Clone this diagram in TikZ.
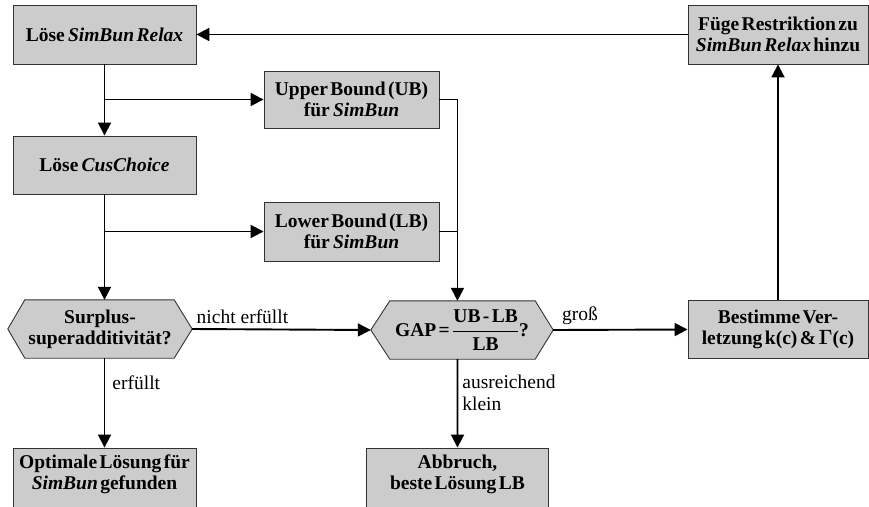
\documentclass[tikz,border=0pt]{standalone}
\usepackage{amsmath}
\usepackage{fontspec}
\setmainfont{Liberation Serif}[BoldFeatures={WordSpace=0.5},BoldItalicFeatures={WordSpace=0.5}]
\usetikzlibrary{arrows.meta,calc}
\definecolor{boxgray}{HTML}{CCCCCC}
\definecolor{edgegray}{HTML}{333333}
\tikzset{
  box/.style={draw=edgegray, line width=0.9pt, fill=boxgray, inner sep=0pt, align=center,
    font=\fontsize{19.5}{21}\selectfont\bfseries},
  hexbox/.style={inner sep=0pt, minimum width=#1},
  hextext/.style={inner sep=0pt, align=center, font=\fontsize{19.5}{21}\selectfont\bfseries},
  txt/.style={inner sep=0pt, align=left, font=\fontsize{19.5}{22}\selectfont},
  conn/.style={line width=1.9pt, -{Triangle[length=13pt,width=13pt]}},
  plain/.style={line width=1.9pt},
}
\begin{document}
\begin{tikzpicture}[x=1pt,y=-1pt]
\useasboundingbox (0,0) rectangle (869,506);
\clip (0,0) rectangle (869,506);
% boxes
\node[box, minimum width=183, minimum height=59] (relax) at (104.5,34.5) {Löse\,\textit{SimBun Relax}};
\node[box, minimum width=183, minimum height=58] (cus) at (104.5,165) {Löse\,\textit{CusChoice}};
\node[box, minimum width=175, minimum height=57] (ub) at (351.5,99.5) {Upper Bound (UB)\\für\,\textit{SimBun}};
\node[box, minimum width=175, minimum height=59] (lb) at (351.5,231.5) {Lower Bound (LB)\\für\,\textit{SimBun}};
\node[box, minimum width=180, minimum height=59] (fuege) at (778,34.5) {Füge Restriktion zu\\\textit{SimBun Relax} hinzu};
\node[box, minimum width=180, minimum height=58] (best) at (778,329.5) {Bestimme Ver-\\letzung k(c) \& $\boldsymbol{\Gamma}$(c)};
\node[box, minimum width=183, minimum height=64] (opt) at (104.5,480) {};
\node[hextext] (optT) at (104.5,474) {Optimale Lösung für\\\textit{SimBun} gefunden};
\node[box, minimum width=182, minimum height=64] (abb) at (457.5,480) {};
\node[hextext] (abbT) at (457.5,474) {Abbruch,\\beste Lösung LB};
% hexagons
\node[hexbox=184, minimum height=58] (surp) at (100,329) {};
\filldraw[draw=edgegray, line width=0.9pt, fill=boxgray]
  (surp.west) -- ($(surp.north west)+(17,0)$) -- ($(surp.north east)+(-18,0)$) -- (surp.east)
  -- ($(surp.south east)+(-18,0)$) -- ($(surp.south west)+(17,0)$) -- cycle;
\node[hextext] (surpT) at (surp) {Surplus-\\superadditivität?};
\node[hexbox=182, minimum height=58] (gap) at (462,330) {};
\filldraw[draw=edgegray, line width=0.9pt, fill=boxgray]
  (gap.west) -- ($(gap.north west)+(19,0)$) -- ($(gap.north east)+(-18,0)$) -- (gap.east)
  -- ($(gap.south east)+(-18,0)$) -- ($(gap.south west)+(19,0)$) -- cycle;
\node[hextext] (gapT) at (gap) {GAP = $\dfrac{\text{UB - LB}}{\text{LB}}$?};
% coordinates
\coordinate (b1) at (relax.south |- ub.west);
\coordinate (b2) at (cus.south |- lb.west);
\coordinate (ubc) at ($(ub.east)+(18,0)$);
\coordinate (gtop) at (ubc |- gap.north);
\coordinate (gbot) at (ubc |- gap.south);
\coordinate (lbc) at (ubc |- lb.east);
\coordinate (stop) at (cus.south |- surp.north);
\coordinate (sbot) at (cus.south |- surp.south);
% connectors
\draw[conn] (relax.south) -- (cus.north);
\draw[conn] (b1) -- (ub.west);
\draw[conn] (cus.south) -- (stop);
\draw[conn] (b2) -- (lb.west);
\draw[conn] (ub.east) -- (ubc) -- (gtop);
\draw[plain] (lb.east) -- (lbc);
\draw[conn] (surp.east) -- node[txt, pos=0.02, anchor=south west, yshift=4pt] (lab1) {nicht erfüllt} (gap.west);
\draw[conn] (sbot) -- node[txt, anchor=west, pos=0.27, xshift=7pt] (lab2) {erfüllt} (opt.north);
\draw[conn] (gbot) -- node[txt, anchor=north west, pos=0.17, xshift=4pt] (lab3) {ausreichend\\klein} (abb.north);
\draw[conn] (gap.east) -- node[txt, anchor=south west, pos=0.06, yshift=4pt] (lab4) {groß} (best.west);
\draw[conn] (best.north) -- (fuege.south);
\draw[conn] (fuege.west) -- (relax.east);
\end{tikzpicture}
\end{document}
